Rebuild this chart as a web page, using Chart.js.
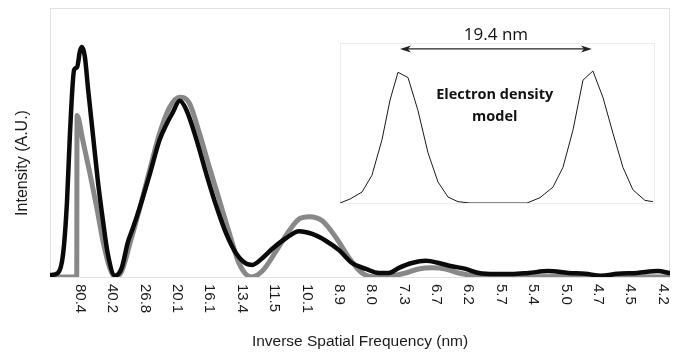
<!DOCTYPE html>
<html>
<head>
<meta charset="utf-8">
<script src="https://cdn.jsdelivr.net/npm/chart.js@4.4.1/dist/chart.umd.min.js"></script>
<style>
  html, body { margin: 0; padding: 0; background: #fff; }
  #wrap { position: relative; width: 682px; height: 353px; }
  #mainChart { position: absolute; left: 0; top: 0; }
  #insetChart { position: absolute; left: 330px; top: 20px; }
</style>
</head>
<body>
<div id="wrap">
  <canvas id="mainChart" width="682" height="353"></canvas>
  <canvas id="insetChart" width="340" height="190"></canvas>
</div>
<script>
// tick labels sit at the diffraction orders 1..19 (80.4 / n)
var tickLabels = ['80.4','40.2','26.8','20.1','16.1','13.4','11.5','10.1','8.9','8.0','7.3','6.7','6.2','5.7','5.4','5.0','4.7','4.5','4.2'];

// measured profile (black), x = order
var measuredX = [0.08,0.32,0.48,0.60,0.69,0.82,0.91,1.0,1.06,1.15,1.25,1.40,1.55,1.71,1.86,2.08,2.29,2.48,2.63,2.85,3.15,3.46,3.68,3.86,4.08,4.29,4.60,4.91,5.22,5.52,5.83,6.14,6.32,6.63,6.94,7.37,7.77,8.17,8.60,9.0,9.40,9.83,10.23,10.54,10.85,11.25,11.68,12.08,12.48,12.91,13.31,13.83,14.32,14.85,15.46,16.08,16.6,17.09,17.6,18.2,18.85,19.2];
var measuredY = [0.7,1.5,8.6,28,53,77,78,84,85.5,82,70,53,36,21,8.6,0.5,3.4,13,18,26,38,51,57,61,65.5,62,51,38,26,16,8.6,4.9,4.5,7,10.5,14.5,17,16,13.4,10,5.2,3,1.5,1.5,3.4,5.2,6,5.2,4,3,1.5,1.1,1.1,1.5,2.2,1.5,1.2,0.5,1.2,1.5,2.2,1.5];

// model fit (gray)
var modelX = [0.08,0.90,0.91,1.09,1.31,1.52,1.71,1.92,2.08,2.29,2.54,2.85,3.15,3.46,3.77,4.08,4.38,4.69,5.0,5.31,5.62,5.92,6.29,6.63,7.06,7.46,7.77,8.08,8.48,8.91,9.31,9.71,10.14,10.63,11.06,11.46,11.86,12.29,12.69,13.22,13.83,16,19.2];
var modelY = [0,0,60,50.7,38.4,25.7,13.4,3.4,0,2.2,12.3,25.7,39.6,53.4,63.1,66.8,64.6,53.4,40.7,28.4,16,4.9,0,2.2,9.7,17.2,21.6,22.4,20.9,14.6,7.1,1.5,0,0.4,1.5,3,3.4,3,1.5,0.4,0,0.2,0];

// inset: electron density model, x in nm
var densityX = [0,1.0,2.19,3.18,4.18,4.98,5.77,6.77,7.76,8.76,9.75,10.75,11.74,12.94,18.61,19.90,21.19,22.19,23.18,24.18,25.17,26.17,27.16,28.16,29.15,30.35,31.14];
var densityY = [0,0.03,0.083,0.21,0.48,0.78,0.99,0.95,0.70,0.38,0.16,0.045,0.01,0,0,0.04,0.12,0.27,0.55,0.93,1.0,0.80,0.53,0.27,0.10,0.02,0.01];
var peakPos = 5.77;
var peakSpacing = 19.4;

function toPoints(xs, ys) {
  return xs.map(function(x, i) { return { x: x, y: ys[i] }; });
}

var mainDecor = {
  id: 'mainDecor',
  beforeDatasetsDraw: function(chart) {
    var ctx = chart.ctx, a = chart.chartArea;
    ctx.save();
    ctx.strokeStyle = '#e2e2e2';
    ctx.lineWidth = 1;
    ctx.strokeRect(a.left + 0.5, a.top + 0.5, a.right - a.left - 1, a.bottom - a.top);
    ctx.restore();
  },
  afterDraw: function(chart) {
    var ctx = chart.ctx, a = chart.chartArea, xs = chart.scales.x;
    ctx.save();
    ctx.fillStyle = '#1a1a1a';
    ctx.font = '15px "Liberation Sans", Arial, sans-serif';
    ctx.textAlign = 'left';
    ctx.textBaseline = 'middle';
    tickLabels.forEach(function(lbl, i) {
      var px = xs.getPixelForValue(i + 1);
      ctx.save();
      ctx.translate(px, a.bottom + 7);
      ctx.rotate(Math.PI / 2);
      ctx.fillText(lbl, 0, 0);
      ctx.restore();
    });
    ctx.textAlign = 'center';
    ctx.font = '15.5px "Liberation Sans", Arial, sans-serif';
    ctx.fillText('Inverse Spatial Frequency (nm)', 360, 342);
    ctx.save();
    ctx.translate(23, 163);
    ctx.rotate(-Math.PI / 2);
    ctx.font = '16px "Liberation Sans", Arial, sans-serif';
    ctx.fillText('Intensity (A.U.)', 0, 0);
    ctx.restore();
    ctx.restore();
  }
};

new Chart(document.getElementById('mainChart').getContext('2d'), {
  type: 'line',
  data: {
    datasets: [{
      label: 'Measured',
      data: toPoints(measuredX, measuredY),
      borderColor: '#0a0a0a',
      borderWidth: 4.5,
      order: 0
    }, {
      label: 'Model',
      data: toPoints(modelX, modelY),
      borderColor: '#888888',
      borderWidth: 5,
      order: 1
    }]
  },
  options: {
    responsive: false,
    animation: false,
    layout: { padding: { left: 50, right: 12, top: 8, bottom: 76 } },
    elements: {
      point: { radius: 0 },
      line: { cubicInterpolationMode: 'monotone', borderCapStyle: 'round', borderJoinStyle: 'round' }
    },
    scales: {
      x: { type: 'linear', min: 0.075, max: 19.22, display: false },
      y: { min: 0, max: 100, display: false }
    },
    plugins: { legend: { display: false }, tooltip: { enabled: false } }
  },
  plugins: [mainDecor]
});

var insetDecor = {
  id: 'insetDecor',
  beforeDatasetsDraw: function(chart) {
    var ctx = chart.ctx, a = chart.chartArea;
    ctx.save();
    ctx.strokeStyle = '#ececec';
    ctx.lineWidth = 1;
    ctx.strokeRect(a.left + 0.5, a.top + 0.5, a.right - a.left - 1, a.bottom - a.top);
    ctx.restore();
  },
  afterDraw: function(chart) {
    var ctx = chart.ctx, xs = chart.scales.x, ys = chart.scales.y;
    var x1 = xs.getPixelForValue(peakPos + 0.2);
    var x2 = xs.getPixelForValue(peakPos + peakSpacing - 0.1);
    var y = ys.getPixelForValue(1.167);
    ctx.save();
    ctx.strokeStyle = '#222';
    ctx.fillStyle = '#222';
    ctx.lineWidth = 1.2;
    ctx.beginPath();
    ctx.moveTo(x1 + 6, y);
    ctx.lineTo(x2 - 6, y);
    ctx.stroke();
    ctx.beginPath();
    ctx.moveTo(x1, y); ctx.lineTo(x1 + 11, y - 3.5); ctx.lineTo(x1 + 8, y); ctx.lineTo(x1 + 11, y + 3.5); ctx.closePath();
    ctx.fill();
    ctx.beginPath();
    ctx.moveTo(x2, y); ctx.lineTo(x2 - 11, y - 3.5); ctx.lineTo(x2 - 8, y); ctx.lineTo(x2 - 11, y + 3.5); ctx.closePath();
    ctx.fill();
    ctx.textAlign = 'center';
    ctx.textBaseline = 'middle';
    ctx.fillStyle = '#111';
    ctx.font = '17px "Open Sans", sans-serif';
    ctx.fillText(peakSpacing + ' nm', (x1 + x2) / 2, y - 14);
    ctx.font = 'bold 14.5px "Open Sans", sans-serif';
    var cx = xs.getPixelForValue(15.4);
    ctx.fillText('Electron density', cx, ys.getPixelForValue(0.818));
    ctx.fillText('model', cx, ys.getPixelForValue(0.652));
    ctx.restore();
  }
};

new Chart(document.getElementById('insetChart').getContext('2d'), {
  type: 'line',
  data: {
    datasets: [{
      label: 'Electron density',
      data: toPoints(densityX, densityY),
      borderColor: '#1a1a1a',
      borderWidth: 1,
      tension: 0
    }]
  },
  options: {
    responsive: false,
    animation: false,
    layout: { padding: { left: 10, right: 15, top: 23, bottom: 7 } },
    elements: { point: { radius: 0 } },
    scales: {
      x: { type: 'linear', min: 0, max: 31.35, display: false },
      y: { min: 0, max: 1.212, display: false }
    },
    plugins: { legend: { display: false }, tooltip: { enabled: false } }
  },
  plugins: [insetDecor]
});
</script>
</body>
</html>
